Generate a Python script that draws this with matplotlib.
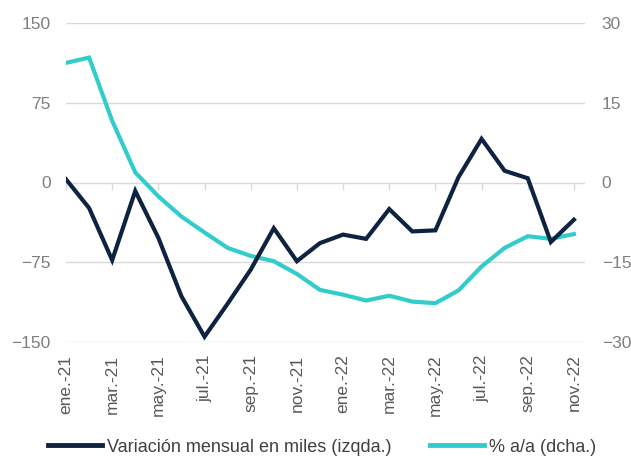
import matplotlib
matplotlib.use("Agg")
import matplotlib.pyplot as plt
from matplotlib.markers import TICKDOWN

plt.rcParams["font.family"] = ["Liberation Sans", "DejaVu Sans"]

# Data
months = ["ene.-21", "feb.-21", "mar.-21", "abr.-21", "may.-21", "jun.-21",
          "jul.-21", "ago.-21", "sep.-21", "oct.-21", "nov.-21", "dic.-21",
          "ene.-22", "feb.-22", "mar.-22", "abr.-22", "may.-22", "jun.-22",
          "jul.-22", "ago.-22", "sep.-22", "oct.-22", "nov.-22"]
var_mensual = [3, -24, -73, -8, -52, -107, -145, -114, -82, -43, -74, -57,
               -49, -53, -25, -46, -45, 5, 41, 11, 4, -56, -35]
pct_aa = [22.5, 23.5, 11.6, 1.9, -2.6, -6.4, -9.4, -12.3, -13.8, -14.8, -17.2,
          -20.2, -21.1, -22.2, -21.3, -22.4, -22.7, -20.3, -15.8, -12.3, -10.1,
          -10.6, -9.7]
left_ticks = [-150, -75, 0, 75, 150]
right_ticks = [-30, -15, 0, 15, 30]

navy = "#0D2341"
teal = "#33CCCC"
grid_c = "#D9D9D9"
lab_c = "#7F7F7F"

fig = plt.figure(figsize=(6.31, 4.57), dpi=100)
ax = fig.add_axes([66 / 631, 1 - 342 / 457, (585 - 66) / 631, (342 - 23) / 457])
ax2 = ax.twinx()

x = list(range(len(months)))
ax2.plot(x, pct_aa, color=teal, lw=3, solid_joinstyle="miter", zorder=2)
ax.plot(x, var_mensual, color=navy, lw=3, solid_joinstyle="miter", zorder=3)
ax.set_zorder(ax2.get_zorder() + 1)
ax.patch.set_visible(False)

ax.set_xlim(0, 22.48)
ax.set_ylim(-150, 150)
ax2.set_ylim(-30, 30)
ax.set_yticks(left_ticks)
ax2.set_yticks(right_ticks)
for t in left_ticks:
    ax2.axhline(t * 30 / 150, color=grid_c, lw=1, zorder=0)

# tick marks hanging from the zero line
ax2.plot(x[::2], [0] * len(x[::2]), ls="none", marker=TICKDOWN, ms=5,
         mew=1, color=grid_c, zorder=0)

for a in (ax, ax2):
    for s in a.spines.values():
        s.set_visible(False)

ax.tick_params(axis="y", length=0, pad=11, labelsize=12.5, labelcolor=lab_c)
ax2.tick_params(axis="y", length=0, pad=12, labelsize=12.5, labelcolor=lab_c)

# category labels at the bottom
ax.set_xticks(x[::2])
ax.set_xticklabels(months[::2], rotation=90, va="top", ha="center")
ax.tick_params(axis="x", length=0, pad=9, labelsize=12.5, labelcolor="#595959")

h1, = ax.plot([], [], color=navy, lw=3.5)
h2, = ax.plot([], [], color=teal, lw=3.5)
fig.legend([h1, h2], ["Variación mensual en miles (izqda.)", "% a/a (dcha.)"],
           loc="center left", bbox_to_anchor=(48 / 631, 1 - 447 / 457),
           ncol=2, frameon=False, borderpad=0, borderaxespad=0,
           handlelength=3.0, handletextpad=0.28, columnspacing=2.1,
           fontsize=13, labelcolor="#404040")

fig.savefig("out.png", dpi=100)
